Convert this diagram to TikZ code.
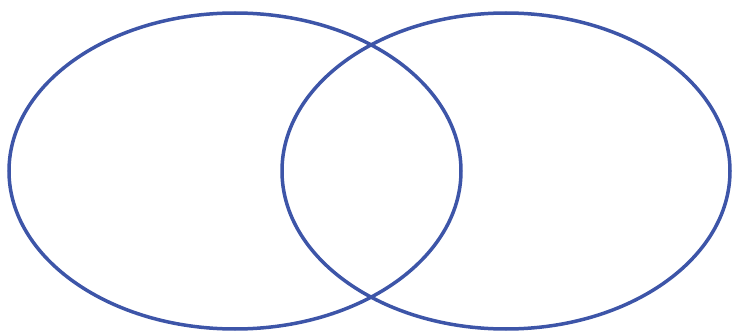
\documentclass[tikz,border=0pt]{standalone}
\usetikzlibrary{shapes.geometric}
\definecolor{vblue}{HTML}{3D55A8}
\begin{document}
\begin{tikzpicture}[x=1pt,y=1pt,
  ring/.style={draw=vblue, line width=3.5pt, ellipse, inner sep=0pt, outer sep=0pt}]
\useasboundingbox (0,0) rectangle (732,333);
\node[ring, minimum width=452pt, minimum height=316pt] (left) at (235,162) {};
\node[ring, minimum width=448pt, minimum height=316pt] (right) at (506,162) {};
\end{tikzpicture}
\end{document}
